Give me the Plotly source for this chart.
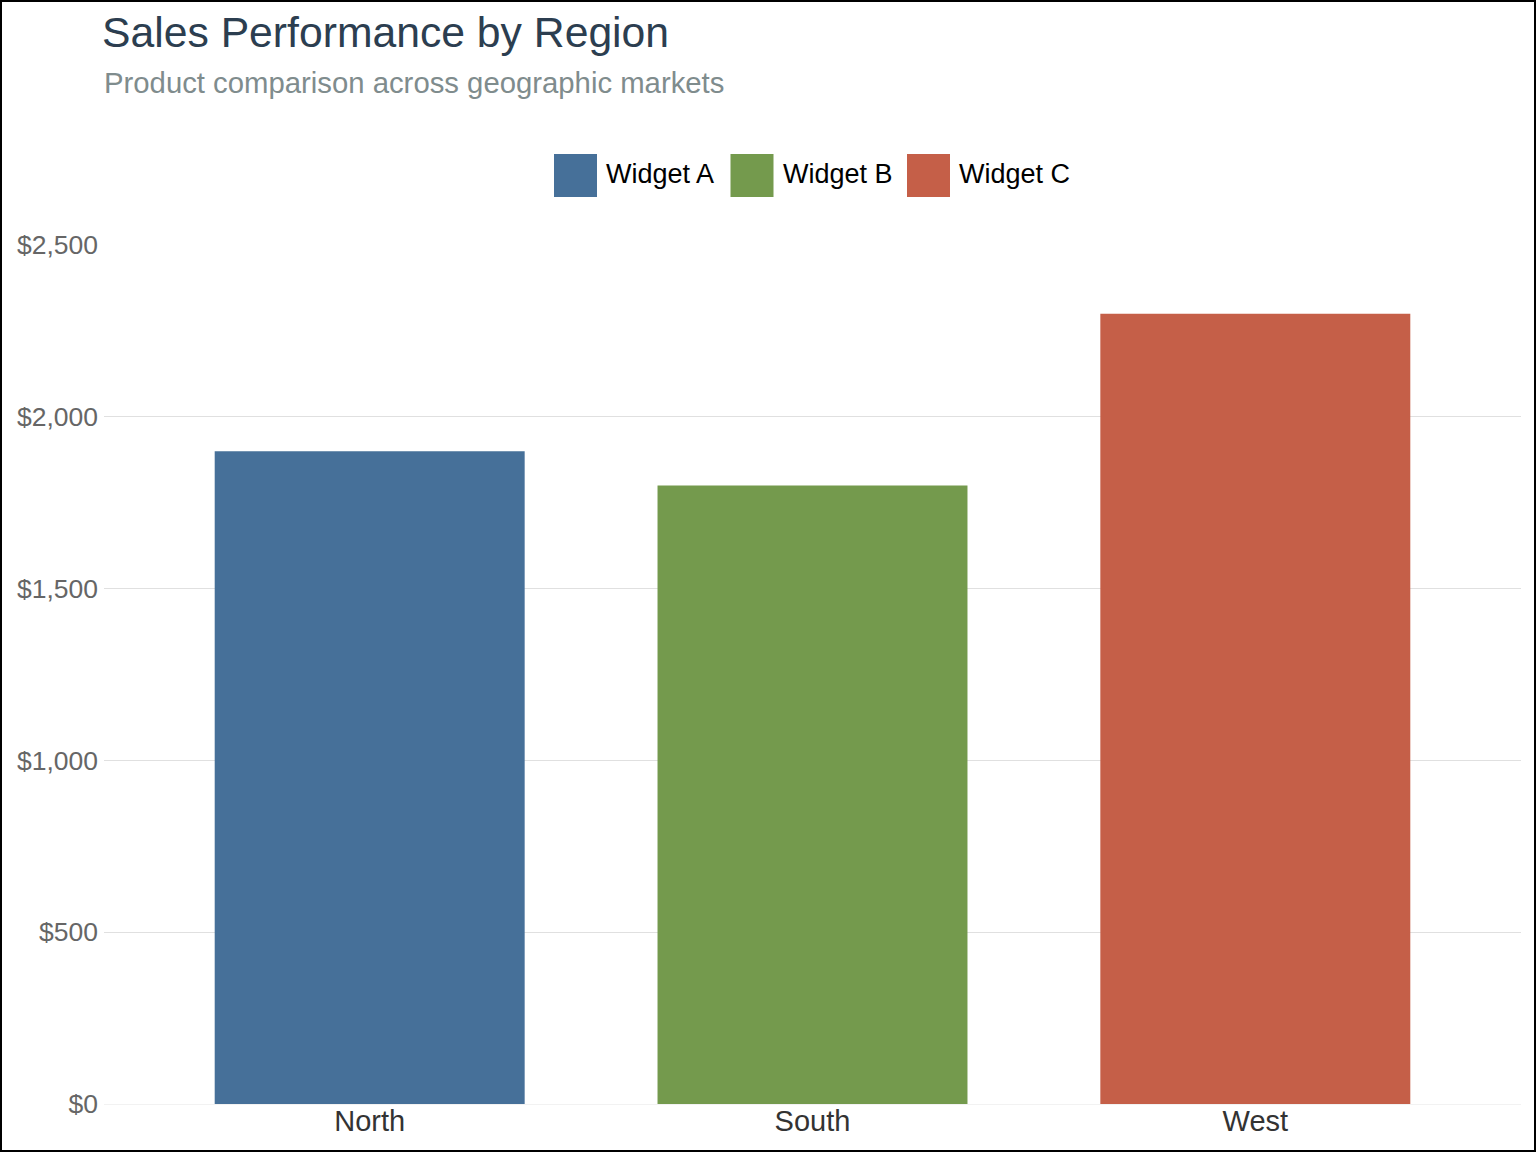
import plotly.graph_objects as go

# data
regions = ["North", "South", "West"]
products = ["Widget A", "Widget B", "Widget C"]
sales = [1900, 1800, 2300]
colors = ["#467099", "#749a4d", "#c55f48"]
y_ticks = [0, 500, 1000, 1500, 2000, 2500]
y_labels = ["$0", "$500", "$1,000", "$1,500", "$2,000", "$2,500"]

W, H = 1536, 1152
ml, mr, mt, mb = 104, 15, 245, 48
pw, ph = W - ml - mr, H - mt - mb
font = "Liberation Sans, Arial, sans-serif"


def px_x(x):
    return (x - ml) / pw


def px_y(y):
    return (H - mb - y) / ph


fig = go.Figure()
for reg, prod, val, col in zip(regions, products, sales, colors):
    fig.add_trace(go.Bar(x=[reg], y=[val], name=prod, marker_color=col,
                         marker_line_width=0, showlegend=False))

# hand-built legend (big square swatches like the reference)
shapes = []
annotations = []
leg_left, leg_step, sw, leg_top = 554, 176.5, 43, 154
for i, (prod, col) in enumerate(zip(products, colors)):
    x0 = leg_left + i * leg_step
    shapes.append(dict(type="rect", xref="paper", yref="paper",
                       x0=px_x(x0), x1=px_x(x0 + sw),
                       y0=px_y(leg_top + sw), y1=px_y(leg_top),
                       fillcolor=col, line_width=0))
    annotations.append(dict(text=prod, xref="paper", yref="paper",
                            x=px_x(x0 + sw + 7), y=px_y(leg_top + sw / 2 - 2),
                            xanchor="left", yanchor="middle", showarrow=False,
                            font=dict(family=font, size=27, color="#000000")))

# subtitle
annotations.append(dict(text="Product comparison across geographic markets",
                        xref="paper", yref="paper", x=px_x(ml - 2), y=px_y(82),
                        xanchor="left", yanchor="middle", showarrow=False,
                        font=dict(family=font, size=29.3, color="#7f8c8d")))

# outer frame
shapes.append(dict(type="rect", xref="paper", yref="paper",
                   x0=px_x(1), x1=px_x(W - 1), y0=px_y(H - 1), y1=px_y(1),
                   line=dict(color="#000000", width=2), fillcolor="rgba(0,0,0,0)"))

fig.update_layout(
    width=W, height=H,
    margin=dict(l=ml, r=mr, t=mt, b=mb),
    paper_bgcolor="white", plot_bgcolor="white",
    barmode="overlay", bargap=0.3,
    font=dict(family=font),
    title=dict(text="Sales Performance by Region",
               x=(ml - 2) / W, xanchor="left", xref="container",
               y=1 - 32 / H, yanchor="middle", yref="container",
               font=dict(family=font, size=42.7, color="#2c3e50")),
    xaxis=dict(range=[-0.6, 2.6], showgrid=False, showline=False, ticks="",
               ticklabelstandoff=-3,
               tickfont=dict(family=font, size=29, color="#333333")),
    yaxis=dict(range=[0, 2500], tickmode="array", tickvals=y_ticks, ticktext=y_labels,
               showgrid=True, gridcolor="#e0e0e0", gridwidth=1,
               zeroline=True, zerolinecolor="#f2f2f2", zerolinewidth=1,
               showline=False, ticks="", ticklabelstandoff=5,
               tickfont=dict(family=font, size=26.5, color="#666666")),
    shapes=shapes, annotations=annotations,
)

fig.write_html("out.html", config={"displayModeBar": False},
               post_script="document.body.style.margin='0';")
